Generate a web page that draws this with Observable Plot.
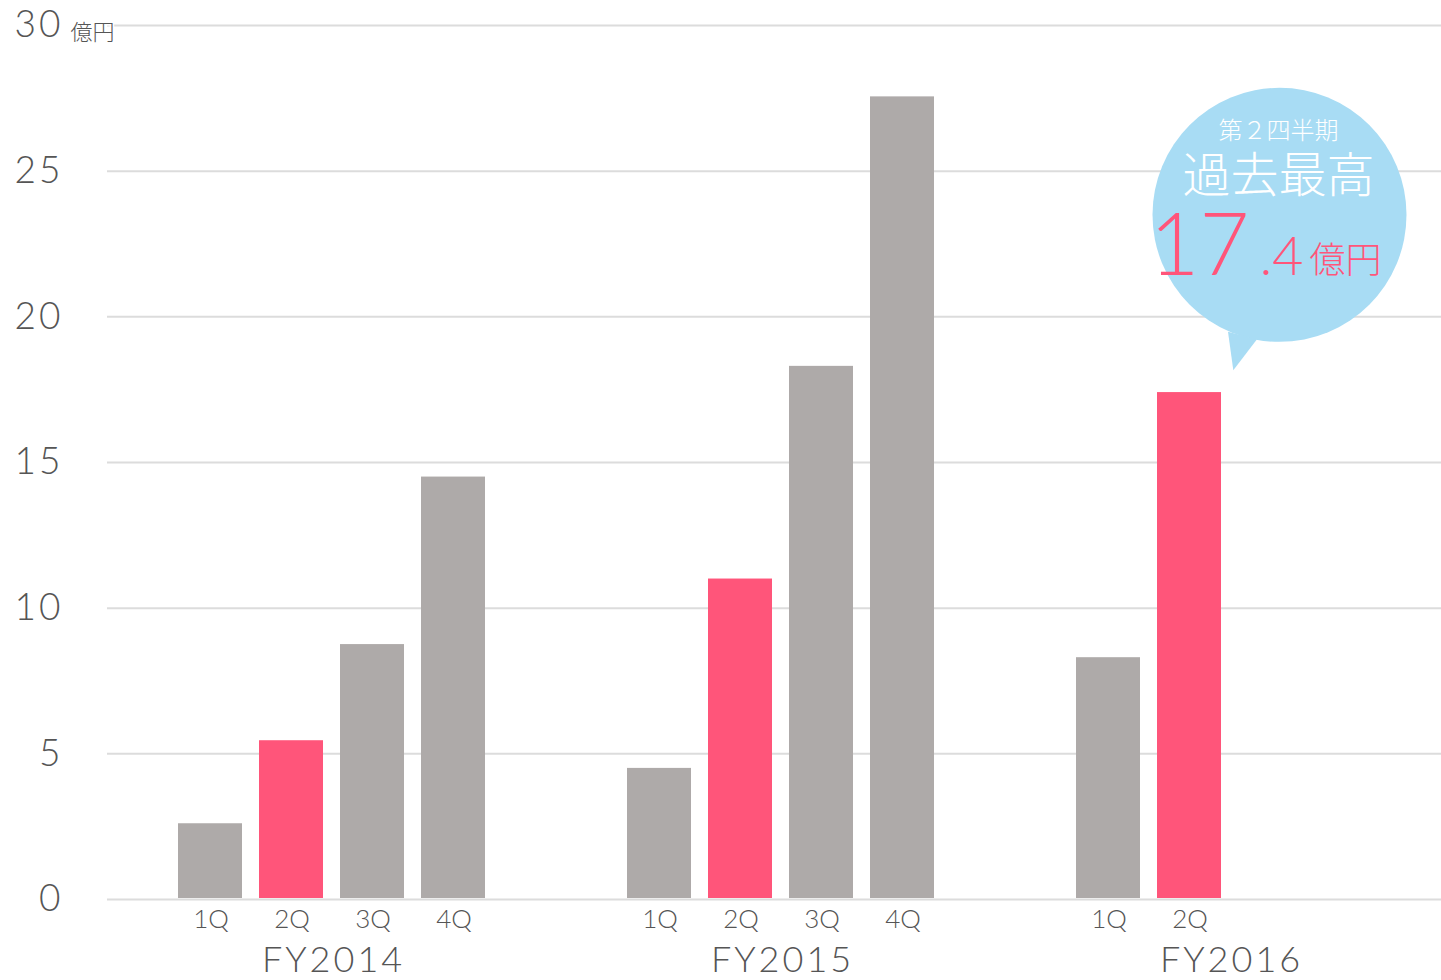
<!DOCTYPE html>
<html>
<head>
<meta charset="utf-8">
<script src="https://cdn.jsdelivr.net/npm/d3@7"></script>
<script src="https://cdn.jsdelivr.net/npm/@observablehq/plot@0.6"></script>
<style>
  html, body { margin: 0; padding: 0; overflow: hidden; background: #fff; }
  g[aria-label="y-axis tick label"] text { letter-spacing: 3px; }
  g[aria-label="fx-axis tick label"] text { letter-spacing: 3px; }
  g[aria-label="quarter labels"] text { letter-spacing: 1px; }
  g[aria-label="callout int"] text { letter-spacing: 17px; }
  g[aria-label="callout dec"] text { letter-spacing: 1px; }
</style>
</head>
<body>
<div id="chart"></div>
<script>
// ---- data ----
const years = ["FY2014", "FY2015", "FY2016"];
const quarters = ["1Q", "2Q", "3Q", "4Q"];
const fy2014 = [2.6, 5.45, 8.75, 14.5];
const fy2015 = [4.5, 11.0, 18.3, 27.55];
const fy2016 = [8.3, 17.4];
const yTicks = [0, 5, 10, 15, 20, 25, 30];
const unitLabel = "億円";
const calloutYear = "FY2016";
const calloutQuarter = "2Q";
const calloutLine1 = "第２四半期";
const calloutLine2 = "過去最高";
const calloutInt = "17";
const calloutDec = ".4";

const gray = "#aeaaa9";
const pink = "#ff557a";
const blue = "#a8dcf4";
const textColor = "#555555";
const gridColor = "#dcdcdc";

const series = [fy2014, fy2015, fy2016];
const rows = [];
series.forEach((vals, i) => vals.forEach((v, j) => rows.push({year: years[i], quarter: quarters[j], value: v})));

const annot = [{year: calloutYear, quarter: calloutQuarter}];
const unitRow = [{year: years[0], value: yTicks[yTicks.length - 1], text: unitLabel}];

const cy = 23.5; // callout center (data units)
const cdx = 90;  // callout center offset from the 2Q bar centre (px)

const chart = Plot.plot({
  width: 1454,
  height: 980,
  marginLeft: 107,
  marginRight: 0,
  marginTop: 25,
  marginBottom: 81,
  style: `max-width:none; color:${textColor}; font-family:Lato,'Noto Sans CJK JP',sans-serif; font-weight:300; background:#fff;`,
  fx: {domain: years, padding: 0, label: null},
  x: {domain: quarters, paddingInner: 0.215, paddingOuter: 0.862, axis: null},
  y: {domain: [0, 30], axis: null},
  color: {type: "identity"},
  marks: [
    Plot.ruleY(yTicks, {stroke: gridColor, strokeWidth: 2}),
    Plot.barY(rows, {fx: "year", x: "quarter", y: "value", fill: d => d.quarter === calloutQuarter ? pink : gray, insetBottom: 1}),
    Plot.axisY({ticks: yTicks, tickSize: 0, tickPadding: 44, fontSize: 37, anchor: "left", label: null, fill: textColor}),
    Plot.text(unitRow, {fx: "year", y: "value", text: "text", frameAnchor: "left", dx: -37, dy: 14, textAnchor: "start", lineAnchor: "bottom", fontSize: 22, fill: textColor, stroke: "white", strokeWidth: 3, paintOrder: "stroke"}),
    Plot.text(rows, {fx: "year", x: "quarter", text: "quarter", frameAnchor: "bottom", dy: 20, dx: 0.5, lineAnchor: "middle", fontSize: 26, fill: textColor, ariaLabel: "quarter labels"}),
    Plot.axisFx({anchor: "bottom", tickSize: 0, tickPadding: 47, fontSize: 36, dx: 1.5, label: null, fill: textColor}),
    // callout bubble
    Plot.dot(annot, {fx: "year", x: "quarter", y: () => cy, r: 127, fill: blue, dx: cdx}),
    Plot.vector(annot, {fx: "year", x: "quarter", y: () => 19.36, dx: 53, length: 36, rotate: 194.8, shape: "spike", r: 15, anchor: "start", fill: blue, stroke: "none"}),
    Plot.text(annot, {fx: "year", x: "quarter", y: () => cy, text: () => calloutLine1, dx: cdx - 1, dy: -76, lineAnchor: "bottom", fontSize: 24, fill: "white"}),
    Plot.text(annot, {fx: "year", x: "quarter", y: () => cy, text: () => calloutLine2, dx: cdx - 1, dy: -23, lineAnchor: "bottom", fontSize: 48, fill: "white"}),
    Plot.text(annot, {fx: "year", x: "quarter", y: () => cy, text: () => calloutInt, dx: -40, dy: 60, textAnchor: "start", lineAnchor: "bottom", fontSize: 86, fill: pink, ariaLabel: "callout int"}),
    Plot.text(annot, {fx: "year", x: "quarter", y: () => cy, text: () => calloutDec, dx: 70, dy: 60, textAnchor: "start", lineAnchor: "bottom", fontSize: 54, fill: pink, ariaLabel: "callout dec"}),
    Plot.text(annot, {fx: "year", x: "quarter", y: () => cy, text: () => unitLabel, dx: 120, dy: 58, textAnchor: "start", lineAnchor: "bottom", fontSize: 36, fill: pink})
  ]
});
document.getElementById("chart").appendChild(chart);
</script>
</body>
</html>
